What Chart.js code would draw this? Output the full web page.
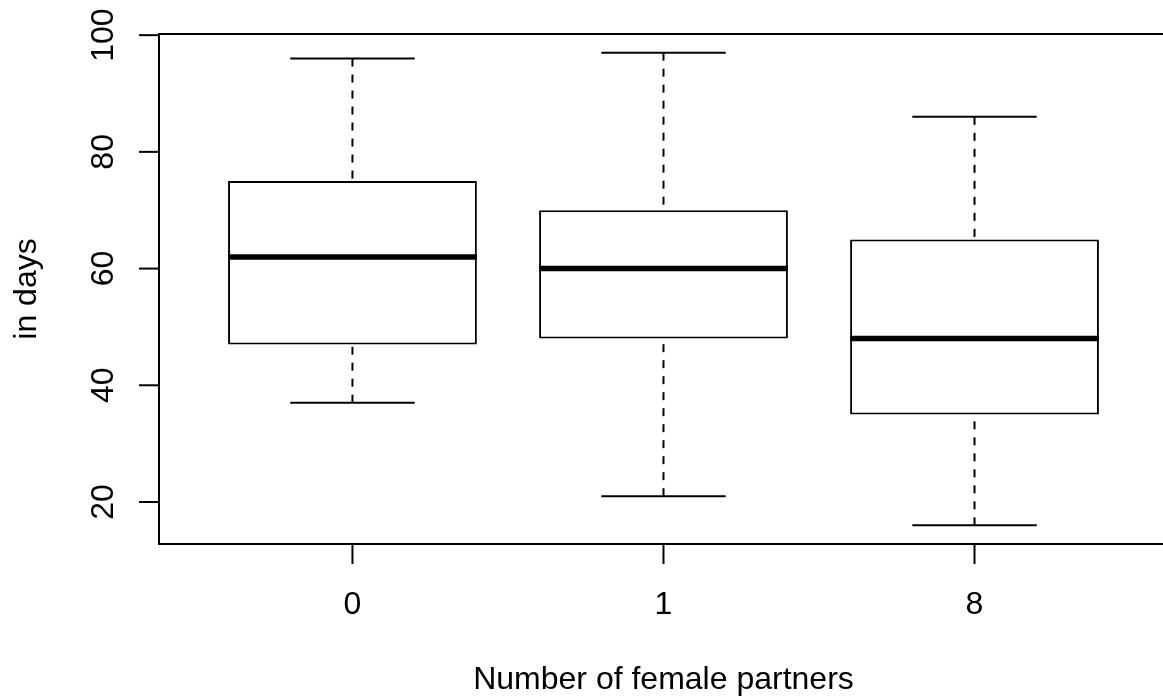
<!DOCTYPE html>
<html>
<head>
<meta charset="utf-8">
<script src="https://cdn.jsdelivr.net/npm/chart.js@4"></script>
<style>
  html, body { margin: 0; padding: 0; background: #fff; overflow: hidden; }
  canvas { display: block; }
</style>
</head>
<body>
<canvas id="boxChart" width="1163" height="698"></canvas>
<script>
// groups on the x axis and their box statistics
const groups = ['0', '1', '8'];
const xPos = [1, 2, 3];
const whiskerLow = [37, 21, 16];
const q1 = [47, 48, 35];
const median = [62, 60, 48];
const q3 = [75, 70, 65];
const whiskerHigh = [96, 97, 86];
const yTicks = [20, 40, 60, 80, 100];

const xTitle = 'Number of female partners';
const yTitle = 'in days';
const FONT = '32px "Liberation Sans", Arial, sans-serif';

// whiskers, staples, medians, frame and axes drawn off the chart's scales
const boxplotExtras = {
    id: 'boxplotExtras',
    afterDatasetsDraw(chart) {
        const { ctx, chartArea: a, scales: { x, y } } = chart;
        const bars = chart.getDatasetMeta(0).data;
        ctx.save();
        ctx.strokeStyle = '#000';
        ctx.fillStyle = '#000';
        ctx.lineCap = 'butt';

        bars.forEach((bar, i) => {
            const cx = bar.x;
            const half = bar.width / 2;

            // dashed whiskers, drawn from the extremes toward the box
            ctx.lineWidth = 2;
            ctx.setLineDash([8, 8]);
            [[whiskerLow[i], q1[i]], [whiskerHigh[i], q3[i]]].forEach(([from, to]) => {
                ctx.beginPath();
                ctx.moveTo(cx, y.getPixelForValue(from));
                ctx.lineTo(cx, y.getPixelForValue(to));
                ctx.stroke();
            });
            ctx.setLineDash([]);

            // staples are half the box width
            [whiskerLow[i], whiskerHigh[i]].forEach(v => {
                const py = y.getPixelForValue(v);
                ctx.beginPath();
                ctx.moveTo(cx - half / 2, py);
                ctx.lineTo(cx + half / 2, py);
                ctx.stroke();
            });

            // thick median
            const pm = y.getPixelForValue(median[i]);
            ctx.lineWidth = 5.5;
            ctx.beginPath();
            ctx.moveTo(cx - half, pm);
            ctx.lineTo(cx + half, pm);
            ctx.stroke();
        });

        // frame round the plot region (its right side falls just past the canvas)
        ctx.lineWidth = 2;
        ctx.beginPath();
        ctx.moveTo(a.right + 6, a.top);
        ctx.lineTo(a.left, a.top);
        ctx.lineTo(a.left, a.bottom);
        ctx.lineTo(a.right + 6, a.bottom);
        ctx.stroke();

        ctx.font = FONT;
        ctx.textAlign = 'center';
        ctx.textBaseline = 'alphabetic';

        // y axis ticks and rotated labels
        yTicks.forEach(v => {
            const py = y.getPixelForValue(v);
            ctx.beginPath();
            ctx.moveTo(a.left - 20, py);
            ctx.lineTo(a.left, py);
            ctx.stroke();
            ctx.save();
            ctx.translate(a.left - 46, py);
            ctx.rotate(-Math.PI / 2);
            ctx.fillText(String(v), 0, 0);
            ctx.restore();
        });

        // x axis ticks and labels
        xPos.forEach((v, i) => {
            const px = x.getPixelForValue(v);
            ctx.beginPath();
            ctx.moveTo(px, a.bottom);
            ctx.lineTo(px, a.bottom + 20);
            ctx.stroke();
            ctx.fillText(groups[i], px, a.bottom + 70);
        });

        // axis titles
        const midX = (x.getPixelForValue(xPos[0]) + x.getPixelForValue(xPos[xPos.length - 1])) / 2;
        ctx.fillText(xTitle, midX, a.bottom + 145);

        ctx.save();
        ctx.translate(a.left - 123, (a.top + a.bottom) / 2);
        ctx.rotate(-Math.PI / 2);
        ctx.fillText(yTitle, 0, 0);
        ctx.restore();

        ctx.restore();
    }
};

new Chart(document.getElementById('boxChart').getContext('2d'), {
    type: 'bar',
    data: {
        datasets: [{
            label: 'boxes',
            data: groups.map((g, i) => ({ x: xPos[i], y: [q1[i], q3[i]] })),
            backgroundColor: '#fff',
            borderColor: '#000',
            borderWidth: 2,
            borderSkipped: false,
            categoryPercentage: 0.8,
            barPercentage: 1.0
        }]
    },
    options: {
        responsive: false,
        animation: false,
        events: [],
        layout: { padding: { left: 159, top: 34, right: 0, bottom: 154 } },
        scales: {
            x: {
                type: 'linear',
                offset: false,
                min: 0.378,
                max: 3.606,
                display: false,
                afterBuildTicks: scale => { scale.ticks = xPos.map(v => ({ value: v })); }
            },
            y: {
                type: 'linear',
                min: 12.8,
                max: 100.2,
                display: false
            }
        },
        plugins: {
            legend: { display: false },
            tooltip: { enabled: false }
        }
    },
    plugins: [boxplotExtras]
});
</script>
</body>
</html>
